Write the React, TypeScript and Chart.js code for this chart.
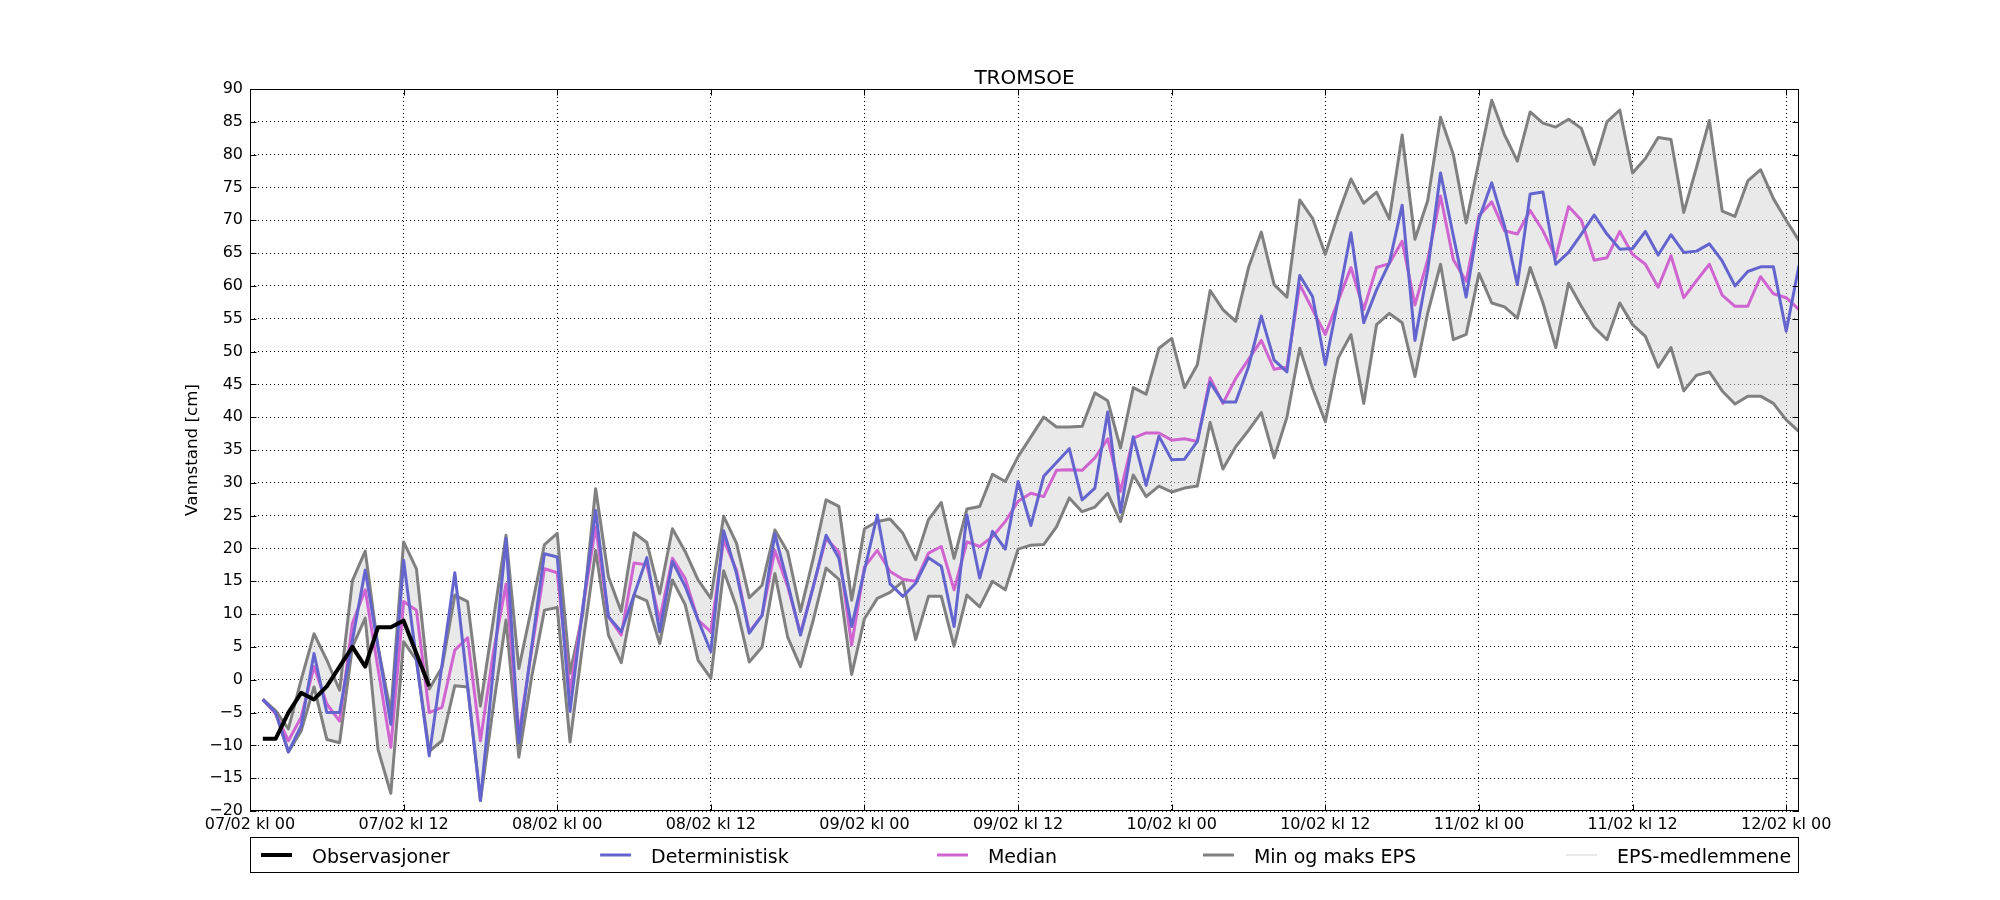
import React, { useEffect, useRef } from 'react';
import { Chart, registerables } from 'chart.js';

Chart.register(...registerables);

const TITLE = 'TROMSOE';
const Y_LABEL = 'Vannstand [cm]';
const TICK_HOURS = [0, 12, 24, 36, 48, 60, 72, 84, 96, 108, 120];
const TICK_LABELS = [
  '07/02 kl 00', '07/02 kl 12', '08/02 kl 00', '08/02 kl 12', '09/02 kl 00', '09/02 kl 12',
  '10/02 kl 00', '10/02 kl 12', '11/02 kl 00', '11/02 kl 12', '12/02 kl 00',
];
const LEGEND_LABELS = ['Observasjoner', 'Deterministisk', 'Median', 'Min og maks EPS', 'EPS-medlemmene'];

// hourly time steps after 07/02 kl 00
const HOURS = Array.from({ length: 121 }, (_, i) => i + 1);

const OBSERVASJONER = [-9, -9, -5, -2, -3, -1, 2, 5, 2, 8, 8, 9, 4, -1];

const DETERMINISTISK = [
  -3, -5, -11, -7, 4, -5, -5, 6, 16.7, 5, -6.8, 18.2,
  3, -11.6, 2.3, 16.3, -1, -18.4, 1.4, 21.5, -9.6, 5, 19.2, 18.7,
  -4.8, 11, 25.8, 9.6, 7.3, 12.9, 18.6, 7.3, 18, 14.2, 9.1, 4.3,
  22.7, 16.2, 7.1, 9.8, 22.2, 14.7, 6.8, 14.2, 22, 18.5, 8.1, 16.7,
  25.1, 14.6, 12.7, 14.7, 18.6, 17.3, 8.1, 25.1, 15.5, 22.6, 19.9, 30.2,
  23.5, 31, 33.1, 35.2, 27.4, 29.2, 40.8, 25.5, 37, 29.6, 37.1, 33.5,
  33.6, 36.3, 45.3, 42.3, 42.3, 47.7, 55.4, 48.7, 46.9, 61.6, 58.4, 48,
  57.9, 68.1, 54.4, 59.4, 63.5, 72.3, 51.7, 62.5, 77.2, 67.6, 58.3, 70.2,
  75.7, 69.1, 60.2, 74, 74.3, 63.3, 65.1, 67.9, 70.8, 67.9, 65.6, 65.7,
  68.3, 64.7, 67.8, 65.1, 65.3, 66.4, 63.8, 60, 62.2, 62.9, 62.9, 53.1,
  63.1,
];

const MEDIAN = [
  -3, -5.2, -9.3, -5.7, 2, -3.7, -6.3, 8.6, 13.7, 1.7, -10.3, 11.9,
  10.6, -5, -4.2, 4.5, 6.4, -9.3, 4, 14.6, -8.3, 4.5, 16.9, 16.3,
  -2, 11, 23.3, 9.6, 6.8, 17.8, 17.5, 9.1, 18.5, 15.4, 9.1, 7.3,
  21.3, 16.7, 7.3, 9.8, 19.7, 14.2, 7.1, 14.2, 21.5, 19.5, 5.3, 17.2,
  19.7, 16.5, 15.3, 15, 19.3, 20.3, 13.7, 21, 20.3, 21.8, 24.1, 27.2,
  28.4, 27.9, 31.9, 32, 31.9, 33.8, 36.7, 28.7, 36.8, 37.6, 37.6, 36.5,
  36.7, 36.3, 46, 42.1, 45.9, 48.8, 51.7, 47.3, 47.6, 60.2, 56.4, 52.6,
  57.7, 62.8, 56.4, 62.8, 63.4, 66.8, 57.1, 64, 73.7, 64, 60.7, 70.7,
  72.8, 68.4, 67.9, 71.5, 68.4, 64.3, 72.1, 70, 63.9, 64.3, 68.3, 64.8,
  63.3, 59.8, 64.6, 58.2, 60.8, 63.3, 58.6, 56.9, 56.9, 61.4, 58.8, 58.2,
  56.4,
];

const EPS_MAKS = [
  -3, -4.7, -7.5, 0, 7, 3, -1.6, 15.1, 19.6, 5, -5, 21,
  16.9, -1.4, 1.9, 12.9, 11.9, -4, 9, 22, 1.7, 11, 20.6, 22.3,
  1, 10.1, 29.1, 15.7, 10.4, 22.4, 20.9, 13.1, 23, 19.5, 15.2, 12.4,
  24.9, 20.8, 12.5, 14.4, 22.8, 19.5, 10.4, 18.5, 27.4, 26.4, 12.1, 23,
  24.1, 24.5, 22.3, 18.3, 24.4, 27, 18.5, 26, 26.4, 31.3, 30.2, 34,
  37, 40, 38.5, 38.5, 38.6, 43.7, 42.5, 35.3, 44.5, 43.5, 50.5, 52,
  44.5, 48, 59.3, 56.4, 54.6, 62.8, 68.2, 60.2, 58.3, 73.1, 70.3, 64.8,
  70.9, 76.3, 72.6, 74.3, 70.2, 83, 67.1, 73, 85.7, 80, 69.6, 79,
  88.3, 83, 79, 86.5, 84.8, 84.2, 85.4, 84, 78.5, 85, 86.8, 77.2,
  79.4, 82.6, 82.3, 71.2, 78.1, 85.2, 71.4, 70.6, 76, 77.7, 73.3, 70,
  66.9,
];

const EPS_MIN = [
  -3, -5, -11, -7.8, -1.1, -9.1, -9.6, 5, 9.4, -10.6, -17.3, 5.8,
  3, -10.9, -9.3, -0.9, -1.1, -18.4, -4.2, 9.1, -11.8, 0.4, 10.6, 11,
  -9.5, 5.5, 19.7, 6.8, 2.6, 12.9, 12, 5.5, 15.2, 11.4, 3, 0.2,
  16.6, 11.1, 2.7, 5, 16.2, 6.5, 2, 9.1, 17, 15.3, 0.8, 9.3,
  12.4, 13.3, 15, 6.1, 12.7, 12.7, 5.1, 12.9, 11.1, 15, 13.7, 19.9,
  20.5, 20.6, 23.3, 27.7, 25.6, 26.3, 28.4, 24.1, 31.2, 27.9, 29.5, 28.6,
  29.2, 29.5, 39.2, 32.1, 35.5, 38, 40.7, 33.8, 40, 50.5, 44.4, 39.3,
  49, 52.6, 42.1, 54.1, 55.8, 54.4, 46.2, 55.9, 63.3, 51.8, 52.6, 61.9,
  57.4, 56.8, 55.1, 62.8, 57.4, 50.6, 60.4, 56.9, 53.7, 51.8, 57.4, 54.1,
  52.3, 47.6, 50.6, 44, 46.4, 46.9, 44, 42, 43.2, 43.2, 42.1, 39.6,
  37.8,
];

const FONT = '"DejaVu Sans", "Liberation Sans", sans-serif';
const C_OBS = '#000000';
const C_DET = '#6464cf';
const C_MED = '#d064d0';
const C_EPS = '#808080';
const C_MEM = '#d3d3d3';
const C_BAND = 'rgba(211,211,211,0.5)';

const toPoints = (vals: number[]) => vals.map((v, i) => ({ x: HOURS[i], y: v }));

const fmtY = (v: number) => (v < 0 ? '\u2212' + Math.abs(v) : String(v));

const framePlugin = {
  id: 'mplFrame',
  afterDraw(chart: any) {
    const { ctx, chartArea: a, scales } = chart;
    ctx.save();
    // axes box
    ctx.strokeStyle = '#000';
    ctx.lineWidth = 1;
    ctx.setLineDash([]);
    const L = Math.round(a.left) + 0.5;
    const R = Math.round(a.right) - 0.5;
    const T = Math.round(a.top) + 0.5;
    const B = Math.round(a.bottom) - 0.5;
    ctx.strokeRect(L, T, R - L, B - T);
    // inward ticks on all four sides
    ctx.beginPath();
    TICK_HOURS.forEach((h) => {
      const px = Math.round(scales.x.getPixelForValue(h)) + 0.5;
      ctx.moveTo(px, B); ctx.lineTo(px, B - 6);
      ctx.moveTo(px, T); ctx.lineTo(px, T + 6);
    });
    scales.y.ticks.forEach((t: any) => {
      const py = Math.round(scales.y.getPixelForValue(t.value)) + 0.5;
      ctx.moveTo(L, py); ctx.lineTo(L + 6, py);
      ctx.moveTo(R, py); ctx.lineTo(R - 6, py);
    });
    ctx.stroke();

    // title
    ctx.fillStyle = '#000';
    ctx.font = `20px ${FONT}`;
    ctx.textAlign = 'center';
    ctx.textBaseline = 'alphabetic';
    ctx.fillText(TITLE, (a.left + a.right) / 2, a.top - 5);

    // y label
    ctx.save();
    ctx.translate(a.left - 57, (a.top + a.bottom) / 2);
    ctx.rotate(-Math.PI / 2);
    ctx.font = `16.7px ${FONT}`;
    ctx.textAlign = 'center';
    ctx.textBaseline = 'middle';
    ctx.fillText(Y_LABEL, 0, 0);
    ctx.restore();

    // legend
    const boxTop = a.bottom + 26.5;
    const boxH = 35;
    ctx.strokeStyle = '#000';
    ctx.lineWidth = 1;
    ctx.strokeRect(L, boxTop, R - L, boxH);
    const fracs = [0.0071, 0.226, 0.4435, 0.6152, 0.8496];
    const styles = [
      { c: C_OBS, w: 4 },
      { c: C_DET, w: 3 },
      { c: C_MED, w: 3 },
      { c: C_EPS, w: 3 },
      { c: C_MEM, w: 1 },
    ];
    const ly = boxTop + boxH / 2;
    ctx.font = `19px ${FONT}`;
    ctx.textAlign = 'left';
    ctx.textBaseline = 'alphabetic';
    LEGEND_LABELS.forEach((lab, i) => {
      const x0 = a.left + fracs[i] * (a.right - a.left);
      ctx.strokeStyle = styles[i].c;
      ctx.lineWidth = styles[i].w;
      ctx.beginPath();
      ctx.moveTo(x0, ly);
      ctx.lineTo(x0 + 31, ly);
      ctx.stroke();
      ctx.fillStyle = '#000';
      ctx.fillText(lab, x0 + 51, ly + 7.5);
    });
    ctx.restore();
  },
};

export default function App() {
  const ref = useRef<HTMLCanvasElement>(null);
  useEffect(() => {
    if (!ref.current) return;
    const lineBase = {
      pointRadius: 0,
      pointHoverRadius: 0,
      tension: 0,
      borderJoinStyle: 'round' as const,
      fill: false,
    };
    const chart = new Chart(ref.current, {
      type: 'line',
      data: {
        datasets: [
          { ...lineBase, label: LEGEND_LABELS[0], data: OBSERVASJONER.map((v, i) => ({ x: HOURS[i], y: v })), borderColor: C_OBS, borderWidth: 4 },
          { ...lineBase, label: LEGEND_LABELS[1], data: toPoints(DETERMINISTISK), borderColor: C_DET, borderWidth: 3 },
          { ...lineBase, label: LEGEND_LABELS[2], data: toPoints(MEDIAN), borderColor: C_MED, borderWidth: 3 },
          { ...lineBase, label: LEGEND_LABELS[3], data: toPoints(EPS_MAKS), borderColor: C_EPS, borderWidth: 3 },
          { ...lineBase, label: LEGEND_LABELS[4], data: toPoints(EPS_MIN), borderColor: C_EPS, borderWidth: 3, fill: '-1', backgroundColor: C_BAND },
        ],
      },
      options: {
        animation: false,
        responsive: false,
        maintainAspectRatio: false,
        devicePixelRatio: 1,
        events: [],
        layout: { padding: { left: 0, right: 201, top: 89, bottom: 0 } },
        plugins: {
          legend: { display: false },
          title: { display: false },
          tooltip: { enabled: false },
        },
        scales: {
          x: {
            type: 'linear',
            min: 0,
            max: 121,
            afterBuildTicks: (s: any) => {
              s.ticks = TICK_HOURS.map((v) => ({ value: v }));
            },
            afterFit: (s: any) => {
              s.height = 89;
            },
            ticks: {
              autoSkip: false,
              maxRotation: 0,
              minRotation: 0,
              padding: 4,
              color: '#000',
              font: { family: FONT, size: 16 },
              callback: (v: any) => {
                const i = TICK_HOURS.indexOf(Number(v));
                return i >= 0 ? TICK_LABELS[i] : '';
              },
            },
            grid: { color: '#000', lineWidth: 1, drawTicks: false },
            border: { display: false, dash: [1, 3] },
          },
          y: {
            type: 'linear',
            min: -20,
            max: 90,
            afterFit: (s: any) => {
              s.width = 250;
            },
            ticks: {
              stepSize: 5,
              padding: 7,
              color: '#000',
              font: { family: FONT, size: 16 },
              callback: (v: any) => fmtY(Number(v)),
            },
            grid: { color: '#000', lineWidth: 1, drawTicks: false },
            border: { display: false, dash: [1, 3] },
          },
        },
      },
      plugins: [framePlugin],
    });
    return () => chart.destroy();
  }, []);
  return (
    <div style={{ position: 'fixed', left: 0, top: 0, width: 2000, height: 900, background: '#fff' }}>
      <canvas ref={ref} width={2000} height={900} style={{ width: '2000px', height: '900px', display: 'block' }} />
    </div>
  );
}
